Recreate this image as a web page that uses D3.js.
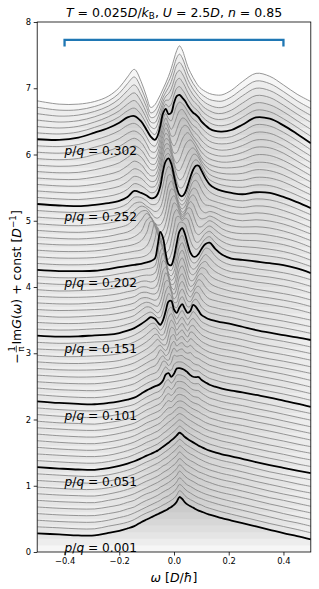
<!DOCTYPE html>
<html>
<head>
<meta charset="utf-8">
<script src="https://cdn.jsdelivr.net/npm/d3@7"></script>
<style>
body { margin: 0; background: #fff; }
svg { display: block; font-family: "DejaVu Sans", sans-serif; }
</style>
</head>
<body>
<div id="chart"></div>
<script>
// frequency grid (D/hbar)
var omega = [-0.5, -0.42, -0.35, -0.29, -0.24, -0.2, -0.17, -0.145, -0.12, -0.1,
  -0.085, -0.07, -0.06, -0.05, -0.04, -0.03, -0.02, -0.01, 0, 0.01, 0.02, 0.03, 0.04, 0.05, 0.06, 0.07, 0.08, 0.09, 0.1,
  0.115, 0.13, 0.15, 0.175, 0.21, 0.25, 0.3, 0.35, 0.4, 0.45, 0.5];

// -Im G / pi for each flux p/q, bottom (p/q = 0.001) to top, without the offset
var spectra = [
[.28,.265,.25,.25,.29,.32,.355,.39,.45,.49, .52,.55,.57,.59,.61,.63,.655,.68,.71,.76,.83,.80,.75,.715,.69,.67,.645,.625,.61, .585,.565,.54,.51,.475,.435,.385,.335,.285,.24,.19],
[.28,.265,.25,.25,.29,.32,.35,.39,.45,.49, .515,.545,.565,.585,.61,.63,.655,.68,.71,.76,.825,.80,.75,.715,.69,.67,.645,.625,.61, .58,.56,.535,.505,.47,.43,.38,.33,.285,.24,.19],
[.28,.26,.25,.25,.28,.32,.35,.39,.44,.48, .51,.54,.56,.58,.61,.63,.65,.68,.71,.76,.82,.795,.75,.715,.69,.665,.64,.62,.605, .58,.56,.535,.505,.47,.43,.38,.33,.28,.24,.19],
[.28,.26,.25,.25,.28,.31,.35,.38,.44,.48, .505,.535,.555,.58,.605,.63,.65,.68,.71,.76,.82,.79,.745,.71,.69,.665,.64,.62,.60, .575,.555,.53,.50,.465,.425,.375,.33,.28,.235,.19],
[.28,.26,.25,.25,.28,.31,.35,.38,.44,.48, .50,.53,.55,.58,.60,.625,.65,.68,.715,.76,.82,.79,.745,.71,.685,.665,.64,.615,.60, .575,.55,.525,.495,.465,.425,.375,.325,.28,.235,.19],
[.28,.26,.25,.245,.28,.31,.345,.38,.43,.47, .50,.53,.55,.575,.60,.625,.65,.68,.715,.76,.815,.79,.74,.71,.685,.66,.64,.615,.60, .57,.55,.52,.49,.46,.42,.37,.32,.28,.235,.19],
[.28,.26,.25,.245,.275,.31,.345,.38,.43,.47, .495,.525,.545,.57,.60,.625,.65,.685,.715,.76,.81,.785,.74,.71,.685,.66,.635,.61,.595, .57,.545,.52,.49,.46,.42,.37,.32,.275,.235,.19],
[.28,.26,.245,.245,.27,.305,.34,.375,.425,.465, .49,.52,.54,.57,.60,.62,.65,.685,.72,.76,.81,.78,.74,.705,.68,.66,.635,.61,.59, .565,.54,.515,.485,.455,.415,.365,.32,.275,.23,.19],
[.28,.26,.245,.24,.27,.305,.34,.375,.42,.46, .49,.52,.54,.565,.595,.62,.65,.685,.72,.76,.805,.78,.74,.705,.68,.66,.635,.61,.59, .56,.535,.51,.48,.45,.41,.36,.315,.275,.23,.19],
[.28,.26,.245,.24,.265,.30,.335,.37,.42,.46, .485,.515,.535,.56,.59,.62,.65,.685,.72,.76,.80,.775,.735,.705,.68,.655,.63,.605,.585, .56,.535,.51,.48,.45,.41,.36,.31,.27,.23,.19],
[.28,.26,.245,.24,.265,.30,.335,.37,.415,.455, .48,.51,.53,.56,.59,.62,.65,.685,.72,.76,.80,.775,.735,.705,.68,.655,.63,.605,.585, .555,.53,.505,.475,.445,.405,.355,.31,.27,.23,.19],
[.28,.26,.245,.24,.265,.30,.33,.37,.415,.455, .48,.51,.53,.56,.59,.62,.65,.685,.72,.76,.80,.775,.74,.705,.68,.655,.63,.605,.585, .555,.53,.505,.475,.445,.405,.36,.315,.275,.23,.19],
[.28,.26,.245,.24,.26,.295,.33,.365,.41,.455, .48,.505,.525,.555,.59,.62,.655,.69,.725,.765,.795,.775,.74,.71,.68,.655,.63,.61,.585, .555,.53,.505,.475,.445,.405,.36,.315,.275,.23,.19],
[.28,.255,.24,.235,.26,.29,.325,.36,.41,.45, .475,.505,.525,.555,.59,.625,.66,.69,.725,.765,.79,.775,.745,.71,.685,.66,.635,.61,.59, .555,.53,.505,.475,.445,.405,.36,.315,.275,.23,.19],
[.28,.255,.24,.235,.26,.29,.32,.355,.405,.45, .475,.505,.525,.55,.59,.63,.665,.685,.72,.765,.785,.775,.75,.715,.685,.66,.635,.615,.59, .555,.53,.505,.475,.445,.405,.36,.315,.275,.23,.19],
[.28,.255,.24,.235,.26,.29,.32,.35,.40,.45, .475,.50,.52,.55,.59,.64,.675,.68,.715,.765,.78,.775,.75,.715,.685,.66,.64,.62,.59, .56,.525,.50,.47,.44,.41,.365,.325,.28,.235,.19],
[.275,.255,.24,.235,.255,.285,.315,.345,.40,.445, .475,.50,.52,.545,.59,.65,.685,.67,.71,.765,.78,.77,.75,.715,.68,.655,.64,.625,.595, .56,.525,.50,.47,.44,.41,.365,.325,.28,.235,.19],
[.275,.25,.24,.23,.255,.28,.31,.34,.395,.445, .47,.50,.52,.545,.59,.66,.69,.665,.70,.765,.78,.77,.75,.715,.68,.65,.64,.63,.595, .56,.525,.50,.47,.44,.41,.365,.325,.28,.235,.19],
[.275,.25,.235,.23,.25,.28,.305,.335,.395,.44, .47,.50,.515,.54,.59,.67,.695,.655,.70,.77,.775,.77,.75,.71,.675,.65,.64,.635,.60, .56,.525,.50,.47,.44,.41,.365,.325,.28,.235,.19],
[.275,.25,.235,.23,.25,.275,.30,.33,.39,.44, .47,.50,.515,.54,.59,.675,.70,.65,.695,.77,.775,.765,.745,.71,.67,.645,.64,.64,.60, .56,.525,.50,.47,.44,.41,.365,.325,.28,.235,.19],
[.275,.25,.235,.23,.25,.275,.30,.33,.39,.44, .47,.50,.515,.54,.59,.68,.70,.645,.69,.77,.775,.765,.745,.71,.67,.645,.64,.64,.60, .56,.525,.495,.465,.435,.41,.37,.33,.285,.24,.19],
[.275,.25,.235,.23,.25,.28,.305,.335,.395,.445, .475,.50,.52,.56,.64,.695,.65,.645,.73,.765,.77,.765,.74,.71,.68,.645,.635,.63,.595, .555,.52,.495,.465,.435,.41,.365,.325,.285,.24,.19],
[.275,.25,.24,.235,.255,.28,.31,.34,.40,.45, .48,.50,.53,.60,.68,.67,.615,.66,.77,.755,.765,.765,.73,.71,.69,.65,.63,.62,.59, .555,.52,.495,.465,.435,.41,.365,.325,.285,.24,.19],
[.27,.25,.24,.24,.26,.285,.31,.345,.40,.45, .485,.51,.555,.63,.66,.61,.595,.70,.78,.73,.755,.765,.72,.70,.71,.665,.635,.62,.59, .555,.52,.495,.465,.435,.41,.365,.325,.285,.24,.19],
[.27,.25,.24,.245,.26,.285,.315,.35,.405,.455, .49,.52,.58,.65,.62,.565,.60,.73,.78,.71,.745,.76,.71,.695,.72,.68,.64,.615,.59, .555,.52,.495,.465,.435,.41,.365,.325,.285,.24,.19],
[.27,.25,.245,.25,.265,.29,.32,.355,.41,.46, .50,.55,.60,.62,.575,.54,.62,.76,.78,.69,.735,.755,.70,.67,.72,.695,.65,.62,.585, .545,.515,.49,.465,.44,.405,.355,.315,.28,.24,.195],
[.27,.25,.245,.255,.27,.29,.325,.36,.415,.465, .51,.575,.61,.57,.53,.53,.66,.79,.77,.67,.72,.75,.69,.645,.72,.71,.66,.62,.58, .545,.515,.49,.465,.44,.405,.355,.315,.28,.24,.195],
[.27,.25,.25,.26,.27,.295,.33,.365,.42,.475, .525,.585,.58,.52,.50,.55,.70,.80,.745,.65,.71,.75,.685,.635,.705,.72,.67,.625,.58, .545,.515,.49,.465,.44,.405,.355,.315,.28,.24,.195],
[.265,.25,.25,.265,.275,.30,.33,.37,.425,.485, .54,.58,.54,.48,.48,.58,.74,.80,.72,.635,.70,.745,.68,.625,.69,.725,.68,.63,.58, .545,.515,.49,.465,.44,.405,.355,.315,.28,.24,.195],
[.265,.25,.255,.27,.28,.30,.335,.375,.435,.495, .545,.55,.50,.45,.49,.61,.76,.795,.69,.62,.695,.745,.675,.615,.665,.73,.69,.635,.58, .545,.515,.49,.465,.44,.405,.355,.315,.28,.24,.195],
[.265,.25,.255,.27,.28,.305,.34,.38,.44,.50, .545,.52,.47,.43,.50,.64,.78,.79,.66,.61,.69,.74,.67,.61,.64,.73,.70,.64,.58, .54,.51,.49,.465,.44,.40,.35,.31,.275,.24,.20],
[.265,.25,.255,.27,.28,.305,.34,.375,.445,.50, .52,.48,.44,.44,.54,.69,.80,.76,.61,.59,.70,.755,.68,.60,.61,.69,.715,.67,.60, .545,.51,.49,.465,.44,.40,.355,.32,.285,.245,.20],
[.265,.25,.25,.265,.28,.305,.335,.37,.45,.50, .49,.44,.41,.45,.58,.74,.81,.73,.57,.57,.71,.77,.69,.59,.58,.65,.72,.70,.62, .55,.51,.49,.465,.44,.40,.355,.32,.285,.245,.20],
[.265,.245,.25,.265,.28,.305,.335,.365,.44,.47, .455,.42,.41,.48,.63,.79,.79,.65,.52,.57,.73,.785,.705,.59,.55,.61,.69,.71,.66, .57,.52,.495,.47,.44,.40,.355,.32,.285,.245,.20],
[.26,.245,.25,.26,.275,.305,.33,.36,.43,.44, .42,.40,.42,.52,.68,.815,.74,.56,.49,.58,.75,.80,.72,.59,.53,.57,.65,.71,.69, .60,.54,.50,.47,.435,.405,.365,.335,.30,.26,.205],
[.26,.245,.245,.26,.275,.30,.33,.355,.415,.42, .40,.395,.43,.57,.75,.80,.66,.50,.46,.59,.765,.82,.735,.595,.51,.53,.60,.68,.70, .64,.56,.51,.475,.435,.405,.365,.335,.30,.26,.205],
[.26,.245,.245,.255,.275,.30,.33,.35,.40,.40, .38,.39,.45,.62,.80,.76,.57,.44,.45,.60,.78,.84,.75,.60,.50,.50,.56,.64,.69, .67,.58,.52,.48,.435,.405,.365,.335,.30,.26,.205],
[.26,.24,.245,.255,.27,.30,.325,.345,.385,.39, .375,.40,.48,.68,.81,.68,.49,.40,.44,.615,.795,.855,.765,.615,.505,.485,.52,.595,.655, .685,.61,.535,.48,.43,.41,.375,.35,.315,.27,.21],
[.26,.24,.24,.25,.27,.30,.325,.34,.37,.38, .38,.41,.51,.74,.80,.60,.41,.37,.44,.63,.81,.87,.78,.63,.51,.47,.49,.55,.62, .69,.64,.55,.48,.43,.41,.375,.35,.315,.27,.21],
[.26,.24,.24,.25,.27,.30,.32,.34,.36,.375, .385,.42,.56,.79,.77,.55,.37,.35,.445,.645,.825,.88,.79,.64,.515,.465,.47,.52,.595, .685,.67,.57,.485,.43,.41,.375,.35,.315,.27,.21],
[.257,.24,.24,.245,.27,.30,.32,.335,.35,.37, .39,.43,.62,.83,.74,.50,.34,.33,.45,.66,.84,.89,.80,.65,.52,.46,.46,.50,.57, .65,.67,.58,.49,.43,.41,.385,.36,.33,.28,.21],
[.256,.237,.235,.245,.27,.30,.32,.335,.35,.38, .44,.62,.80,.68,.48,.35,.32,.40,.58,.77,.875,.875,.85,.73,.60,.51,.47,.49,.55, .63,.66,.575,.49,.43,.41,.39,.365,.333,.28,.21],
[.256,.237,.235,.245,.27,.30,.32,.34,.36,.42, .55,.76,.68,.50,.37,.32,.35,.50,.70,.86,.86,.80,.84,.82,.70,.57,.48,.48,.53, .61,.64,.57,.49,.43,.41,.395,.37,.335,.28,.205],
[.256,.237,.235,.245,.27,.30,.32,.345,.40,.52, .69,.66,.52,.39,.32,.34,.44,.62,.81,.87,.80,.73,.78,.82,.75,.63,.52,.49,.52, .585,.62,.565,.485,.43,.405,.40,.375,.34,.28,.205],
[.256,.237,.235,.245,.27,.30,.32,.36,.44,.61, .65,.52,.40,.33,.33,.40,.55,.75,.87,.84,.74,.66,.71,.79,.79,.70,.58,.51,.51, .56,.60,.56,.48,.425,.405,.405,.38,.34,.28,.20],
[.255,.233,.225,.24,.265,.30,.33,.39,.51,.61, .55,.43,.36,.325,.36,.47,.65,.83,.88,.80,.67,.59,.63,.73,.79,.75,.65,.56,.53, .54,.57,.54,.475,.425,.405,.41,.39,.345,.28,.20],
[.255,.233,.225,.24,.265,.30,.34,.43,.54,.55, .46,.37,.335,.34,.40,.54,.75,.88,.86,.74,.61,.53,.56,.66,.76,.79,.74,.64,.56, .52,.54,.52,.47,.425,.40,.415,.395,.35,.28,.20],
[.255,.233,.225,.24,.265,.30,.35,.45,.52,.49, .42,.35,.34,.37,.46,.63,.83,.90,.80,.65,.53,.48,.52,.62,.73,.79,.78,.70,.61, .54,.53,.505,.465,.42,.40,.42,.40,.35,.28,.195],
[.255,.233,.225,.24,.265,.30,.36,.46,.48,.42, .38,.34,.35,.40,.53,.73,.89,.89,.73,.57,.47,.44,.48,.58,.70,.79,.81,.76,.67, .57,.52,.49,.46,.42,.40,.425,.41,.355,.28,.195],
[.255,.233,.225,.24,.265,.30,.36,.455,.45,.40, .35,.345,.37,.46,.64,.83,.92,.87,.70,.53,.43,.40,.45,.55,.68,.78,.82,.80,.72, .61,.54,.49,.455,.42,.40,.43,.415,.36,.28,.19],
[.253,.23,.22,.24,.265,.30,.36,.45,.42,.38, .34,.35,.40,.52,.75,.90,.94,.86,.68,.50,.39,.37,.42,.53,.66,.77,.83,.83,.76, .64,.55,.49,.45,.42,.40,.43,.42,.36,.28,.19],
[.252,.23,.22,.242,.27,.31,.375,.46,.43,.37, .325,.335,.395,.53,.755,.89,.915,.83,.66,.495,.40,.40,.47,.58,.70,.79,.82,.79,.72, .60,.52,.475,.44,.415,.405,.44,.43,.37,.285,.19],
[.25,.228,.22,.245,.28,.32,.39,.47,.44,.36, .31,.32,.39,.54,.76,.88,.89,.80,.64,.49,.42,.44,.52,.63,.73,.80,.80,.75,.67, .57,.50,.46,.43,.41,.41,.455,.445,.385,.29,.19],
[.248,.226,.222,.25,.29,.335,.41,.485,.445,.35, .295,.30,.375,.53,.745,.86,.855,.74,.58,.47,.46,.53,.63,.72,.78,.80,.76,.69,.61, .53,.475,.44,.415,.405,.415,.47,.455,.39,.29,.185],
[.245,.225,.225,.26,.30,.35,.43,.50,.45,.34, .28,.285,.36,.52,.73,.84,.82,.68,.53,.47,.52,.63,.74,.80,.82,.78,.71,.63,.56, .49,.45,.42,.40,.40,.42,.48,.47,.40,.295,.185],
[.243,.224,.23,.27,.32,.375,.455,.515,.46,.345, .27,.27,.345,.505,.71,.82,.775,.63,.52,.53,.62,.73,.80,.83,.79,.73,.67,.60,.54, .475,.435,.405,.385,.39,.425,.495,.485,.41,.30,.18],
[.24,.222,.235,.285,.34,.40,.48,.53,.47,.35, .26,.255,.33,.49,.69,.80,.73,.59,.53,.60,.72,.81,.84,.82,.75,.68,.63,.58,.52, .46,.42,.39,.375,.385,.43,.51,.50,.42,.30,.18],
[.238,.221,.24,.30,.355,.42,.50,.545,.48,.355, .255,.245,.315,.475,.67,.775,.695,.58,.58,.68,.79,.85,.84,.79,.72,.66,.62,.575,.515, .455,.41,.38,.365,.38,.435,.52,.51,.425,.30,.178],
[.235,.22,.245,.31,.37,.44,.52,.555,.49,.36, .25,.235,.30,.46,.65,.75,.66,.58,.65,.77,.86,.88,.83,.76,.69,.64,.61,.57,.51, .45,.40,.37,.36,.375,.44,.535,.52,.43,.305,.175],
[.232,.22,.25,.32,.385,.46,.54,.57,.495,.365, .26,.225,.29,.445,.635,.72,.64,.61,.72,.84,.89,.87,.82,.75,.685,.635,.605,.565,.505, .445,.395,.36,.35,.37,.445,.55,.53,.435,.31,.172],
[.23,.22,.255,.33,.40,.48,.56,.58,.50,.37, .27,.22,.28,.43,.62,.69,.61,.63,.78,.88,.90,.86,.81,.74,.68,.63,.60,.56,.50, .44,.39,.355,.345,.37,.45,.56,.54,.44,.31,.17],
[.227,.21,.24,.31,.385,.47,.56,.60,.50,.355, .25,.20,.27,.41,.58,.66,.62,.66,.80,.90,.925,.88,.82,.74,.675,.62,.585,.545,.485, .425,.38,.345,.335,.37,.46,.57,.545,.44,.31,.175],
[.223,.20,.225,.29,.37,.46,.56,.615,.50,.34, .22,.19,.26,.39,.54,.62,.62,.68,.81,.92,.95,.90,.83,.74,.67,.61,.57,.53,.47, .41,.37,.335,.33,.37,.465,.58,.55,.445,.31,.18],
[.22,.19,.21,.27,.35,.45,.565,.63,.50,.32, .19,.18,.25,.37,.50,.58,.62,.69,.82,.93,.97,.92,.84,.74,.665,.60,.55,.50,.45, .395,.36,.325,.32,.37,.475,.59,.56,.445,.31,.185],
[.217,.18,.195,.25,.33,.44,.565,.65,.50,.31, .16,.17,.24,.35,.46,.54,.61,.70,.83,.95,.99,.94,.85,.735,.655,.585,.53,.475,.43, .38,.345,.315,.31,.37,.485,.60,.565,.45,.31,.19],
[.213,.17,.175,.225,.305,.425,.57,.67,.50,.29, .13,.16,.23,.32,.42,.51,.60,.70,.835,.96,1.015,.96,.855,.73,.645,.57,.51,.45,.41, .365,.33,.31,.305,.37,.49,.61,.57,.45,.31,.195],
[.21,.16,.16,.20,.28,.41,.57,.685,.50,.27, .11,.15,.22,.30,.39,.48,.58,.70,.84,.97,1.04,.98,.86,.73,.64,.56,.49,.43,.39, .35,.32,.30,.30,.37,.50,.625,.58,.45,.31,.20]
];

var offsetStep = 0.1;
var labelRows = [0, 10, 20, 30, 40, 50, 60];
var labelValues = ['0.001', '0.051', '0.101', '0.151', '0.202', '0.252', '0.302'];
var labelOmega = -0.4;
var xTicks = [-0.4, -0.2, 0, 0.2, 0.4];
var yTicks = [0, 1, 2, 3, 4, 5, 6, 7, 8];
var bracketOmega = [-0.4, 0.4];
var bracketLevels = [7.73, 7.63];

var W = 319, H = 589;
var padL = 37.2, padR = 310.8, padT = 22, padB = 552;

var svg = d3.select('#chart').append('svg')
  .attr('width', W)
  .attr('height', H);

var x = d3.scaleLinear().domain([-0.5, 0.5]).range([padL, padR]);
var y = d3.scaleLinear().domain([0, 8]).range([padB, padT]);

svg.append('clipPath').attr('id', 'plotclip')
  .append('rect')
  .attr('x', padL).attr('y', padT)
  .attr('width', padR - padL).attr('height', padB - padT);

var plot = svg.append('g').attr('clip-path', 'url(#plotclip)');

var curve = d3.curveCatmullRom.alpha(0.5);

spectra.forEach(function (row, k) {
  if (row.length !== omega.length) console.warn('row', k, 'has', row.length, 'values');
});

// shaded bands under each spectrum
var fills = plot.append('g');
spectra.forEach(function (row, k) {
  var off = k * offsetStep;
  var area = d3.area()
    .x(function (d, i) { return x(omega[i]); })
    .y0(y(off))
    .y1(function (d) { return y(d + off); })
    .curve(curve);
  fills.append('path')
    .attr('d', area(row))
    .attr('fill', '#808080')
    .attr('fill-opacity', 0.075);
});

function drawLine(row, k, color, width) {
  var off = k * offsetStep;
  var line = d3.line()
    .x(function (d, i) { return x(omega[i]); })
    .y(function (d) { return y(d + off); })
    .curve(curve);
  plot.append('path')
    .attr('d', line(row))
    .attr('fill', 'none')
    .attr('stroke', color)
    .attr('stroke-width', width)
    .attr('stroke-linejoin', 'round');
}

spectra.forEach(function (row, k) {
  if (labelRows.indexOf(k) < 0) drawLine(row, k, '#8a8a8a', 0.9);
});
labelRows.forEach(function (k) {
  drawLine(spectra[k], k, '#000', 1.8);
});

// p/q labels
labelRows.forEach(function (k, j) {
  var t = svg.append('text')
    .attr('x', x(labelOmega))
    .attr('y', y(k * offsetStep))
    .attr('font-size', 12.2)
    .attr('fill', '#000');
  t.append('tspan').attr('font-style', 'italic').text('p');
  t.append('tspan').text('/');
  t.append('tspan').attr('font-style', 'italic').text('q');
  t.append('tspan').text(' = ' + labelValues[j]);
});

// blue bracket
svg.append('path')
  .attr('d', 'M' + x(bracketOmega[0]) + ',' + y(bracketLevels[1]) +
    'V' + y(bracketLevels[0]) + 'H' + x(bracketOmega[1]) + 'V' + y(bracketLevels[1]))
  .attr('fill', 'none')
  .attr('stroke', '#1f77b4')
  .attr('stroke-width', 2.3)
  .attr('stroke-linejoin', 'miter');

// axes
var xAxis = d3.axisBottom(x).tickValues(xTicks).tickSize(3.5).tickPadding(2.5)
  .tickFormat(d3.format('.1f'));
var yAxis = d3.axisLeft(y).tickValues(yTicks).tickSize(3.5).tickPadding(2.5)
  .tickFormat(d3.format('d'));

var gx = svg.append('g').attr('transform', 'translate(0,' + padB + ')').call(xAxis);
var gy = svg.append('g').attr('transform', 'translate(' + padL + ',0)').call(yAxis);
[gx, gy].forEach(function (g) {
  g.select('.domain').remove();
  g.selectAll('line').attr('stroke', '#000').attr('stroke-width', 0.8);
  g.selectAll('text').attr('font-size', 8.4).attr('fill', '#000')
    .attr('font-family', '"DejaVu Sans", sans-serif');
});

svg.append('rect')
  .attr('x', padL).attr('y', padT)
  .attr('width', padR - padL).attr('height', padB - padT)
  .attr('fill', 'none')
  .attr('stroke', '#000')
  .attr('stroke-width', 0.8);

// title
var title = svg.append('text')
  .attr('x', (padL + padR) / 2)
  .attr('y', 16.5)
  .attr('text-anchor', 'middle')
  .attr('font-size', 12.5);
title.append('tspan').attr('font-style', 'italic').text('T');
title.append('tspan').text(' = 0.025');
title.append('tspan').attr('font-style', 'italic').text('D');
title.append('tspan').text('/');
title.append('tspan').attr('font-style', 'italic').text('k');
title.append('tspan').attr('font-size', 8.8).attr('dy', 2.6).text('B');
title.append('tspan').attr('dy', -2.6).text(', ');
title.append('tspan').attr('font-style', 'italic').text('U');
title.append('tspan').text(' = 2.5');
title.append('tspan').attr('font-style', 'italic').text('D');
title.append('tspan').text(', ');
title.append('tspan').attr('font-style', 'italic').text('n');
title.append('tspan').text(' = 0.85');

// x label
var xl = svg.append('text')
  .attr('x', (padL + padR) / 2)
  .attr('y', 582)
  .attr('text-anchor', 'middle')
  .attr('font-size', 12.5);
xl.append('tspan').attr('font-style', 'italic').text('\u03c9');
xl.append('tspan').text(' [');
xl.append('tspan').attr('font-style', 'italic').text('D');
xl.append('tspan').text('/');
xl.append('tspan').attr('font-style', 'italic').text('\u0127');
xl.append('tspan').text(']');

// y label, rotated, with a small 1/pi fraction
var yl = svg.append('g')
  .attr('transform', 'translate(20.5,' + ((padT + padB) / 2) + ') rotate(-90)');
var minus = yl.append('text').attr('font-size', 12.5).text('\u2212');
var mw = minus.node().getComputedTextLength();
var frac = yl.append('g');
var one = frac.append('text').attr('font-size', 8.2).attr('text-anchor', 'middle').text('1');
var pi = frac.append('text').attr('font-size', 8.2).attr('text-anchor', 'middle').text('\u03c0');
var fw = Math.max(one.node().getComputedTextLength(), pi.node().getComputedTextLength()) + 1.5;
one.attr('x', fw / 2).attr('y', -5.6);
pi.attr('x', fw / 2).attr('y', 3.6);
frac.append('line').attr('x1', 0).attr('x2', fw).attr('y1', -4.2).attr('y2', -4.2)
  .attr('stroke', '#000').attr('stroke-width', 0.7);
var rest = yl.append('text').attr('font-size', 12.5);
rest.append('tspan').text('Im');
rest.append('tspan').attr('font-style', 'italic').text('G');
rest.append('tspan').text('(');
rest.append('tspan').attr('font-style', 'italic').text('\u03c9');
rest.append('tspan').text(') + const  [');
rest.append('tspan').attr('font-style', 'italic').text('D');
rest.append('tspan').attr('font-size', 8.8).attr('dy', -4.5).text('\u22121');
rest.append('tspan').attr('dy', 4.5).text(']');
var rw = rest.node().getComputedTextLength();
var total = mw + 1 + fw + 1 + rw;
var start = -total / 2;
minus.attr('x', start);
frac.attr('transform', 'translate(' + (start + mw + 1) + ',0)');
rest.attr('x', start + mw + 1 + fw + 1);
</script>
</body>
</html>
